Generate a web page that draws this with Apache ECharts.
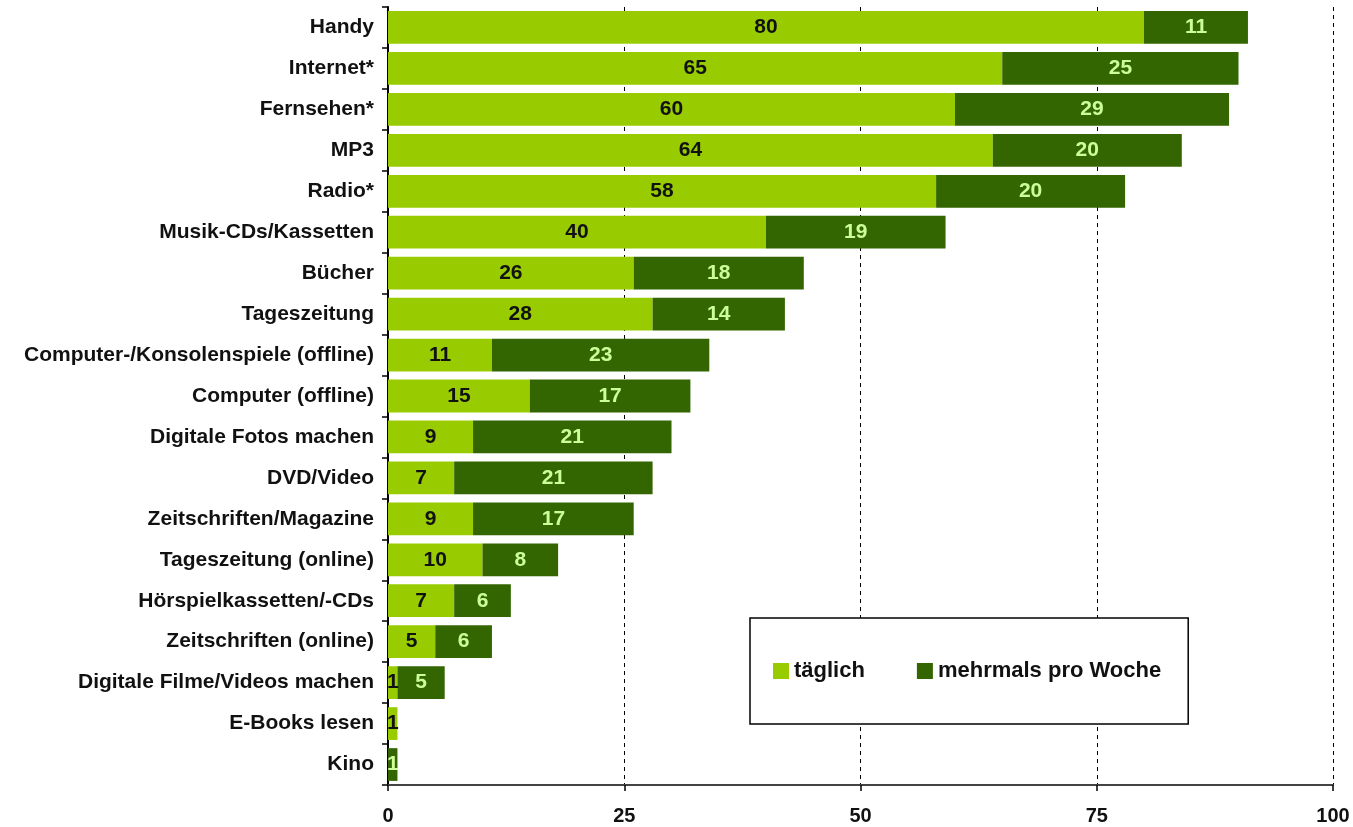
<!DOCTYPE html>
<html><head><meta charset="utf-8">
<script src="https://cdn.jsdelivr.net/npm/echarts@6/dist/echarts.min.js"></script>
<style>html,body{margin:0;padding:0;background:#fff}#c{width:1353px;height:827px}</style>
</head><body><div id="c"></div>
<script>
const categories = ["Handy","Internet*","Fernsehen*","MP3","Radio*","Musik-CDs/Kassetten","Bücher","Tageszeitung","Computer-/Konsolenspiele (offline)","Computer (offline)","Digitale Fotos machen","DVD/Video","Zeitschriften/Magazine","Tageszeitung (online)","Hörspielkassetten/-CDs","Zeitschriften (online)","Digitale Filme/Videos machen","E-Books lesen","Kino"];
const taeglich = [80,65,60,64,58,40,26,28,11,15,9,7,9,10,7,5,1,1,0];
const mehrmals = [11,25,29,20,20,19,18,14,23,17,21,21,17,8,6,6,5,0,1];
const xTicks = [0,25,50,75,100];

const chart = echarts.init(document.getElementById('c'));
const font = 'Liberation Sans, Arial, sans-serif';
const lbl = (color) => ({
  show: true, position: 'inside', color: color, fontFamily: font, fontWeight: 'bold', fontSize: 21,
  formatter: p => p.value === 0 ? '' : String(p.value)
});
chart.setOption({
  animation: false,
  grid: {left: 388, right: 20, top: 7, bottom: 42, containLabel: false},
  legend: {
    left: 750, top: 618, orient: 'horizontal',
    padding: [42, 27, 42, 23], itemGap: 52, itemWidth: 16, itemHeight: 16,
    borderColor: '#000', borderWidth: 1.5, backgroundColor: '#fff',
    icon: 'rect',
    textStyle: {fontFamily: font, fontSize: 22, fontWeight: 'bold', color: '#111'},
    data: ['täglich', 'mehrmals pro Woche'],
    z: 10
  },
  xAxis: {
    type: 'value', min: 0, max: 100, interval: 25,
    axisLine: {show: true, lineStyle: {color: '#444', width: 2}},
    axisTick: {show: true, length: 6, lineStyle: {color: '#000', width: 1.5}},
    axisLabel: {fontFamily: font, fontWeight: 'bold', fontSize: 20, color: '#111', margin: 21,
      formatter: v => xTicks.includes(v) ? String(v) : ''},
    splitLine: {show: true, lineStyle: {color: '#000', type: [4, 4], width: 1}}
  },
  yAxis: {
    type: 'category', data: categories, inverse: true,
    axisLine: {show: true, lineStyle: {color: '#000', width: 2}},
    axisTick: {show: true, length: 6, lineStyle: {color: '#000', width: 1.5}},
    axisLabel: {fontFamily: font, fontWeight: 'bold', fontSize: 21, color: '#111', margin: 14}
  },
  series: [
    {name: 'täglich', type: 'bar', stack: 's', data: taeglich, barCategoryGap: '20%',
      itemStyle: {color: '#99CC00'}, label: lbl('#111')},
    {name: 'mehrmals pro Woche', type: 'bar', stack: 's', data: mehrmals, barCategoryGap: '20%',
      itemStyle: {color: '#336600'}, label: lbl('#CCFF99')}
  ]
});
</script></body></html>
